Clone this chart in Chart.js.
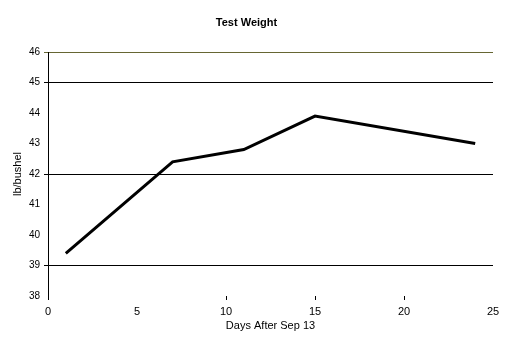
<!DOCTYPE html>
<html>
<head>
<meta charset="utf-8">
<script src="https://cdn.jsdelivr.net/npm/chart.js@4/dist/chart.umd.min.js"></script>
<style>
html,body{margin:0;padding:0;background:#fff;}
#wrap{width:509px;height:350px;position:relative;}
</style>
</head>
<body>
<div id="wrap"><canvas id="c" width="509" height="350"></canvas></div>
<script>
const days = [1, 7, 11, 15, 24];
const weight = [39.4, 42.4, 42.8, 43.9, 43.0];
const yGridValues = [39, 42, 45];
const yTopValue = 46;
const xTickMarks = [0, 10, 15, 20];

const FONT = "'Liberation Sans', Arial, sans-serif";

new Chart(document.getElementById('c'), {
  type: 'line',
  data: {
    datasets: [{
      data: days.map((d, i) => ({x: d, y: weight[i]})),
      borderColor: '#000',
      borderWidth: 3,
      pointRadius: 0,
      tension: 0,
      fill: false
    }]
  },
  options: {
    responsive: false,
    animation: false,
    layout: {padding: {left: 0, right: 16, top: 0, bottom: 0}},
    plugins: {
      legend: {display: false},
      tooltip: {enabled: false},
      title: {
        display: true,
        text: 'Test Weight',
        color: '#000',
        font: {family: FONT, size: 11, weight: 'bold'},
        padding: {top: 16, bottom: 22.8}
      }
    },
    scales: {
      x: {
        type: 'linear',
        min: 0, max: 25,
        ticks: {stepSize: 5, color: '#000', font: {family: FONT, size: 11}, padding: 5, maxRotation: 0},
        grid: {
          drawOnChartArea: false,
          drawTicks: true,
          tickLength: 4,
          color: ctx => xTickMarks.includes(ctx.tick && ctx.tick.value) ? '#000' : 'rgba(0,0,0,0)'
        },
        border: {display: false},
        title: {display: true, text: 'Days After Sep 13', color: '#000', font: {family: FONT, size: 11}, padding: {top: 0, bottom: 17.4}},
        afterFit: s => { s.height = 54; }
      },
      y: {
        min: 38, max: 46,
        ticks: {stepSize: 1, color: '#000', font: {family: FONT, size: 10}, padding: 4},
        grid: {
          drawTicks: true,
          tickLength: 4,
          color: ctx => {
            const v = ctx.tick && ctx.tick.value;
            if (v === yTopValue) return '#666633';
            return yGridValues.includes(v) ? '#000' : 'rgba(0,0,0,0)';
          }
        },
        border: {display: true, color: '#000', width: 1},
        title: {display: true, text: 'lb/bushel', color: '#000', font: {family: FONT, size: 11}, padding: {top: 11.4, bottom: 0}},
        afterFit: s => { s.width = 48; }
      }
    }
  }
});
</script>
</body>
</html>
